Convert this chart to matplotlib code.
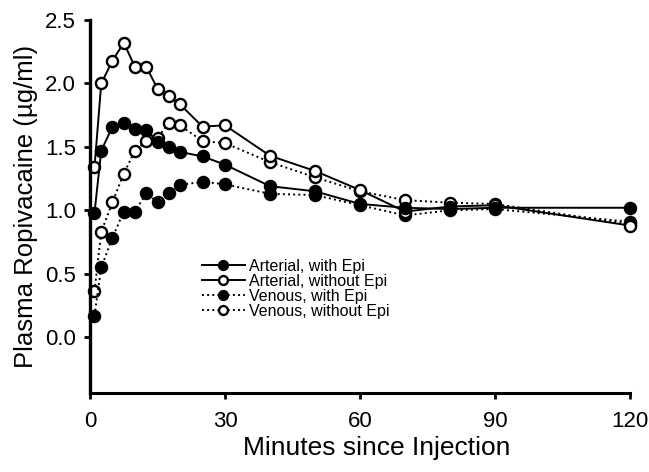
import matplotlib
matplotlib.use('Agg')
import matplotlib.pyplot as plt

plt.rcParams['font.family'] = ['Liberation Sans', 'DejaVu Sans']

# Sampling times (minutes)
minutes = [1, 2.5, 5, 7.5, 10, 12.5, 15, 17.5, 20, 25, 30, 40, 50, 60, 70, 80, 90, 120]

# Plasma ropivacaine (ug/ml)
arterial_epi = [0.98, 1.47, 1.66, 1.69, 1.64, 1.635, 1.54, 1.50, 1.46, 1.425, 1.36,
                1.19, 1.15, 1.05, 1.02, 1.01, 1.02, 1.02]
arterial_no_epi = [1.34, 2.00, 2.18, 2.32, 2.13, 2.13, 1.96, 1.90, 1.835, 1.66, 1.67,
                   1.43, 1.31, 1.16, 0.99, 1.03, 1.04, 0.88]
venous_epi = [0.17, 0.55, 0.785, 0.99, 0.99, 1.135, 1.065, 1.135, 1.20, 1.225, 1.205,
              1.13, 1.12, 1.04, 0.96, 1.00, 1.01, 0.91]
venous_no_epi = [0.365, 0.83, 1.065, 1.29, 1.47, 1.545, 1.57, 1.69, 1.67, 1.545, 1.53,
                 1.38, 1.26, 1.15, 1.08, 1.06, 1.05, 0.89]

labels = ['Arterial, with Epi', 'Arterial, without Epi',
          'Venous, with Epi', 'Venous, without Epi']
xticks = [0, 30, 60, 90, 120]
yticks = [0.0, 0.5, 1.0, 1.5, 2.0, 2.5]

fig = plt.figure(figsize=(6.49, 4.72), dpi=100)
ax = fig.add_axes([90 / 649, 79 / 472, 540 / 649, 373 / 472])

common = dict(color='black', lw=1.4, ms=8, mew=1.7, mec='black', clip_on=False)
ax.plot(minutes, venous_no_epi, ls=':', marker='o', mfc='white', label=labels[3], **common)
ax.plot(minutes, venous_epi, ls=':', marker='o', mfc='black', label=labels[2], **common)
ax.plot(minutes, arterial_no_epi, ls='-', marker='o', mfc='white', label=labels[1], **common)
ax.plot(minutes, arterial_epi, ls='-', marker='o', mfc='black', label=labels[0], **common)

ax.set_xlim(0, 120)
ax.set_ylim(-0.44, 2.5)
ax.set_xticks(xticks)
ax.set_yticks(yticks)
ax.set_yticklabels(['%.1f' % v for v in yticks])

for side in ['top', 'right']:
    ax.spines[side].set_visible(False)
ax.spines['left'].set_linewidth(2.4)
ax.spines['bottom'].set_linewidth(2.2)
ax.tick_params(axis='both', direction='out', length=4, width=2, labelsize=16)
ax.tick_params(axis='x', pad=9)
ax.tick_params(axis='y', pad=6)

ax.set_xlabel('Minutes since Injection', fontsize=19)
ax.xaxis.set_label_coords(0.53, -0.115)
ax.set_ylabel('Plasma Ropivacaine (\u00b5g/ml)', fontsize=18.5, labelpad=5)

h, l = ax.get_legend_handles_labels()
order = [3, 2, 1, 0]
ax.legend([h[i] for i in order], [l[i] for i in order], loc='upper left',
          bbox_to_anchor=(0.207, 0.36), frameon=False, fontsize=11.5,
          handlelength=2.7, handletextpad=0.25, labelspacing=0.0,
          borderpad=0, borderaxespad=0, markerscale=0.8)

fig.savefig('out.png', dpi=100)
